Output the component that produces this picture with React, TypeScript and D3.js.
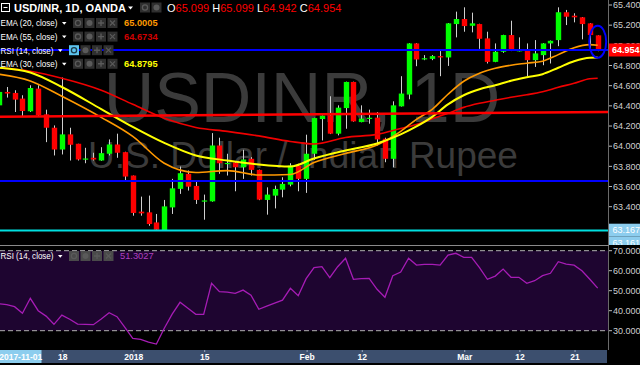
import React from "react";
import * as d3 from "d3";

// ---------- data ----------
const dates = [
  "2017-12-06","2017-12-07","2017-12-08","2017-12-11","2017-12-12","2017-12-13","2017-12-14","2017-12-15",
  "2017-12-18","2017-12-19","2017-12-20","2017-12-21","2017-12-22","2017-12-26","2017-12-27","2017-12-28","2017-12-29",
  "2018-01-02","2018-01-03","2018-01-04","2018-01-05","2018-01-08","2018-01-09","2018-01-10","2018-01-11","2018-01-12",
  "2018-01-15","2018-01-16","2018-01-17","2018-01-18","2018-01-19","2018-01-22","2018-01-23","2018-01-24","2018-01-25",
  "2018-01-26","2018-01-29","2018-01-30","2018-01-31",
  "2018-02-01","2018-02-02","2018-02-05","2018-02-06","2018-02-07","2018-02-08","2018-02-09","2018-02-12","2018-02-13",
  "2018-02-14","2018-02-15","2018-02-16","2018-02-19","2018-02-20","2018-02-21","2018-02-22","2018-02-23","2018-02-26",
  "2018-02-27","2018-02-28",
  "2018-03-01","2018-03-02","2018-03-05","2018-03-06","2018-03-07","2018-03-08","2018-03-09","2018-03-12","2018-03-13",
  "2018-03-14","2018-03-15","2018-03-16","2018-03-19","2018-03-20","2018-03-21","2018-03-22","2018-03-23","2018-03-26",
];

const opens = [
  64.405,64.538,64.528,64.472,64.346,64.571,64.316,64.183,63.967,64.117,64.024,63.872,63.885,63.858,63.925,64.017,63.941,
  63.709,63.351,63.344,63.244,63.168,63.393,63.577,63.726,63.606,63.457,63.453,64.007,63.829,63.838,63.791,63.875,63.765,
  63.467,63.510,63.569,63.619,63.808,63.676,63.925,64.269,64.306,64.124,64.378,64.637,64.239,64.277,64.283,64.074,63.875,
  64.395,64.512,65.019,64.867,64.866,64.893,64.880,65.211,65.261,65.194,65.211,65.069,64.836,64.936,65.102,64.947,64.959,
  64.853,64.903,65.019,65.052,65.328,65.294,65.278,65.218,65.099,
];
const highs = [
  64.594,64.587,64.555,64.505,64.604,64.604,64.362,64.206,64.681,64.183,64.024,63.984,63.935,63.990,64.067,64.124,63.945,
  63.709,63.500,63.510,63.328,63.467,63.676,63.798,63.759,63.659,63.520,64.130,64.084,63.925,63.851,63.964,63.891,63.768,
  63.592,63.609,63.692,63.831,63.825,64.114,64.282,64.305,64.495,64.405,64.640,64.640,64.405,64.362,64.339,64.084,64.445,
  64.694,65.022,65.022,64.903,64.903,64.943,65.221,65.334,65.377,65.324,65.214,65.135,65.019,65.105,65.244,65.079,65.019,
  65.052,65.022,65.048,65.377,65.351,65.318,65.281,65.221,65.099,
];
const lows = [
  64.375,64.482,64.339,64.289,64.339,64.289,64.040,63.908,63.918,63.858,63.858,63.831,63.858,63.855,63.908,63.885,63.659,
  63.311,63.311,63.211,63.161,63.161,63.328,63.527,63.560,63.427,63.271,63.450,63.726,63.709,63.553,63.676,63.709,63.465,
  63.321,63.383,63.493,63.602,63.553,63.537,63.865,64.057,64.120,64.107,64.173,64.243,64.237,64.223,64.007,63.841,63.791,
  64.393,64.465,64.793,64.853,64.853,64.694,64.796,65.079,65.135,65.129,64.965,64.820,64.833,64.926,64.943,64.940,64.694,
  64.786,64.803,64.820,64.992,65.201,65.228,65.059,64.953,64.942,
];
const closes = [
  64.538,64.522,64.462,64.349,64.577,64.306,64.183,63.967,64.117,64.014,63.868,63.878,63.868,63.931,64.017,63.935,63.699,
  63.338,63.334,63.228,63.171,63.403,63.582,63.732,63.599,63.467,63.462,64.007,63.831,63.834,63.791,63.868,63.765,63.470,
  63.520,63.576,63.626,63.808,63.676,63.925,64.279,64.303,64.124,64.382,64.637,64.246,64.273,64.282,64.067,63.875,64.405,
  64.522,65.019,64.860,64.872,64.893,64.880,65.218,65.261,65.191,65.218,65.065,64.836,64.936,65.102,64.946,64.952,64.853,
  64.920,65.019,65.045,65.328,65.284,65.278,65.211,65.102,64.954,
];

const rsiValues = [
  43.5,43,42,38.7,46.2,40,37.3,33.2,37.8,35.7,33.3,33.2,33,35.8,39,37,31.7,
  26.2,25.7,24.3,23.3,31.2,38.3,44.2,41.2,38.2,38.2,53.7,49.5,49.3,48.7,50.3,47.8,40.7,
  42.3,43.8,45.3,51.2,47.5,56,61.5,62,56.5,62,66.2,55.7,56,56.2,50.7,46.7,57.5,
  59.3,66.2,62.8,63.2,63.2,62.8,67.8,68.7,66.7,66.7,61.5,55.7,57.3,60.8,56.7,56.7,53.7,
  55,57.5,58.7,64.5,63.3,62.8,60,55.7,51.3027,
];

// EMA lines at these candle indices
const emaIdx = [0,4,8,13,17,21,25,29,33,37,40,44,48,51,53,55,57,59,61,63,65,67,69,71,73,75,76];
const ema20 = [64.714,64.647,64.495,64.286,64.097,63.831,63.739,63.758,63.714,63.719,63.838,63.928,64.012,64.147,64.266,64.365,64.515,64.644,64.724,64.773,64.803,64.823,64.843,64.908,64.977,65.007,65.0005];
const ema30 = [64.778,64.731,64.587,64.368,64.191,64.032,63.908,63.858,63.818,63.798,63.878,63.958,64.027,64.117,64.196,64.291,64.415,64.505,64.564,64.604,64.649,64.684,64.714,64.778,64.843,64.878,64.8795];
const ema55 = [64.778,64.743,64.674,64.555,64.415,64.276,64.186,64.147,64.102,64.047,64.022,64.087,64.117,64.176,64.216,64.271,64.326,64.385,64.425,64.455,64.485,64.510,64.540,64.584,64.624,64.669,64.6734];

const priceTicks = [63.2,63.4,63.6,63.8,64.0,64.2,64.4,64.6,64.8,65.0,65.2,65.4];
const rsiTicks = [30,40,50,60,70];
const xTicks = [
  { date: "2017-12-18", label: "18" },
  { date: "2018-01-02", label: "2018" },
  { date: "2018-01-15", label: "15" },
  { date: "2018-02-01", label: "Feb" },
  { date: "2018-02-12", label: "12" },
  { date: "2018-03-01", label: "Mar" },
  { date: "2018-03-12", label: "12" },
  { date: "2018-03-21", label: "21" },
];

const levelUpperBlue = 64.953;
const levelLowerBlue = 63.654;
const levelCyan = 63.163;
const trendStart = 64.292; // at first candle
const trendEnd = 64.338; // at last candle

const legendRows = [
  { name: "EMA (20, close)", value: "65.0005", color: "#ff9900" },
  { name: "EMA (55, close)", value: "64.6734", color: "#d00000" },
  { name: "RSI (14, close)", value: "", color: "" },
  { name: "EMA (30, close)", value: "64.8795", color: "#ffff00" },
];
const ohlc = [
  { k: "O", v: "65.099" },
  { k: "H", v: "65.099" },
  { k: "L", v: "64.942" },
  { k: "C", v: "64.954" },
];

// ---------- helpers ----------
function Icons({ x, y, n, first, bg }: { x: number; y: number; n: number; first?: string; bg?: string }) {
  const items = [];
  for (let k = 0; k < n; k++) {
    const bx = x + k * 11.5;
    const fill = k === 0 && first ? first : bg || "#2f2f2f";
    const sym = k === 0 && first ? "#1a3a4a" : "#5a5a5a";
    items.push(
      <g key={k}>
        <rect x={bx} y={y} width={10} height={10} fill={fill} />
        {k === 0 && <circle cx={bx + 5} cy={y + 5} r={2.6} fill="none" stroke={sym} strokeWidth={1.3} />}
        {k === 1 && <circle cx={bx + 5} cy={y + 5} r={3} fill={sym} />}
        {k === 2 && <path d={`M${bx + 2} ${y + 5}H${bx + 8}M${bx + 5} ${y + 2}V${y + 8}`} stroke={sym} strokeWidth={1.4} />}
        {k === 3 && <path d={`M${bx + 2.5} ${y + 2.5}L${bx + 7.5} ${y + 7.5}M${bx + 7.5} ${y + 2.5}L${bx + 2.5} ${y + 7.5}`} stroke={sym} strokeWidth={1.2} />}
      </g>
    );
  }
  return <g>{items}</g>;
}

export default function App() {
  const x = d3.scalePoint<string>().domain(dates).range([-1.2, 597.7]);
  const y = d3.scaleLinear().domain([63.4, 65.4]).range([206.7, 5]);
  const yr = d3.scaleLinear().domain([30, 70]).range([330.7, 250.7]);
  const xi = (i: number) => x(dates[i]) as number;

  const emaLine = d3
    .line<[number, number]>()
    .x((d) => xi(d[0]))
    .y((d) => y(d[1]))
    .curve(d3.curveMonotoneX);
  const rsiLine = d3
    .line<number>()
    .x((_, i) => xi(i))
    .y((d) => yr(d));

  const ema = (vals: number[]) => emaLine(emaIdx.map((k, j) => [k, vals[j]] as [number, number])) || "";

  // trend line extended to the panel edges
  const x0 = xi(0), x1 = xi(dates.length - 1);
  const slope = (y(trendEnd) - y(trendStart)) / (x1 - x0);
  const tY = (px: number) => y(trendStart) + slope * (px - x0);

  const font = "'Liberation Sans', Arial, sans-serif";

  return (
    <svg
      width={640}
      height={365}
      style={{ position: "fixed", left: 0, top: 0, display: "block", background: "#000" }}
      fontFamily={font}
    >
      <defs>
        <clipPath id="pricePanel">
          <rect x={0} y={0} width={609} height={245} />
        </clipPath>
        <clipPath id="rsiPanel">
          <rect x={0} y={246} width={609} height={104} />
        </clipPath>
        <clipPath id="axisTop">
          <rect x={609} y={0} width={31} height={245} />
        </clipPath>
      </defs>
      <rect x={0} y={0} width={640} height={365} fill="#000" />

      {/* ---------- price panel ---------- */}
      <g clipPath="url(#pricePanel)">
        <text x={302} y={122} textAnchor="middle" fontSize={70} fill="#3b3b3b">
          USDINR, 1D
        </text>
        <text x={303} y={168} textAnchor="middle" fontSize={37} fill="#3b3b3b">
          U.S. Dollar / Indian Rupee
        </text>

        {/* candles */}
        {dates.map((d, i) => {
          const cx = Math.round(xi(i)) + 0.5;
          const o = opens[i], c = closes[i];
          const up = c >= o;
          const top = y(Math.max(o, c));
          const h = Math.max(1.2, Math.abs(y(o) - y(c)));
          return (
            <g key={d}>
              <line x1={cx} x2={cx} y1={y(highs[i])} y2={y(lows[i])} stroke="#cfcfcf" strokeWidth={1} />
              <rect x={cx - 2.7} y={top} width={5.4} height={h} fill={up ? "#00ff00" : "#ff0000"} />
            </g>
          );
        })}

        {/* EMA lines */}
        <path d={ema(ema55)} fill="none" stroke="#f00000" strokeWidth={1.6} />
        <path d={ema(ema20)} fill="none" stroke="#ff9900" strokeWidth={1.6} />
        <path d={ema(ema30)} fill="none" stroke="#ffff00" strokeWidth={2} />

        {/* drawings */}
        <line x1={0} x2={609} y1={y(levelUpperBlue)} y2={y(levelUpperBlue)} stroke="#0000ff" strokeWidth={2} />
        <line x1={0} x2={609} y1={y(levelLowerBlue)} y2={y(levelLowerBlue)} stroke="#0000ff" strokeWidth={2} />
        <line x1={0} x2={609} y1={tY(0)} y2={tY(609)} stroke="#ff0000" strokeWidth={2.5} />
        <line x1={0} x2={609} y1={y(levelCyan)} y2={y(levelCyan)} stroke="#00e0e0" strokeWidth={2} />
        <ellipse cx={xi(dates.length - 1)} cy={y((opens[76] + closes[76]) / 2) - 1} rx={8.5} ry={16} fill="none" stroke="#0000ff" strokeWidth={2} />
      </g>

      {/* ---------- legend ---------- */}
      <g>
        <rect x={1.5} y={3.5} width={8} height={8} fill="none" stroke="#fff" strokeWidth={1} />
        <line x1={3.5} x2={7.5} y1={7.5} y2={7.5} stroke="#fff" strokeWidth={1} />
        <text x={14} y={11.5} fontSize={11} fontWeight="bold" fill="#fff">
          USD/INR, 1D, OANDA
        </text>
        <path d="M128 6.5h5l-2.5 3z" fill="#fff" />
        <Icons x={140} y={2.5} n={2} />
        <text x={167} y={11.5} fontSize={11} fill="#fff">
          {ohlc.map((p, k) => (
            <React.Fragment key={p.k}>
              <tspan fill="#fff">{(k > 0 ? " " : "") + p.k}</tspan>
              <tspan fill="#ff0000">{p.v}</tspan>
            </React.Fragment>
          ))}
        </text>
        {legendRows.map((r, k) => {
          const cy = 23 + k * 13.6;
          const isRsi = r.value === "";
          const nameW = isRsi ? 53 : 57;
          const ix = isRsi ? 69 : 73;
          return (
            <g key={r.name}>
              <text x={0.5} y={cy + 3.3} fontSize={9.3} fill="#fff" textLength={nameW} lengthAdjust="spacingAndGlyphs">
                {r.name}
              </text>
              <path d={`M${nameW + 5} ${cy - 1}h4.5l-2.25 2.7z`} fill="#fff" />
              <Icons x={ix} y={cy - 5} n={4} first={isRsi ? "#5cc3ee" : undefined} />
              {!isRsi && (
                <text x={124} y={cy + 3.3} fontSize={9.3} fontWeight="bold" fill={r.color}>
                  {r.value}
                </text>
              )}
            </g>
          );
        })}
      </g>

      {/* ---------- price axis ---------- */}
      <line x1={608.5} x2={608.5} y1={0} y2={350} stroke="#6a6a6a" strokeWidth={1} />
      <g clipPath="url(#axisTop)">
        {priceTicks.map((t) => (
          <g key={t}>
            <line x1={609} x2={612} y1={y(t)} y2={y(t)} stroke="#bbb" />
            <text x={613} y={y(t) + 3.2} fontSize={9} fill="#d0d0d0">
              {t.toFixed(3)}
            </text>
          </g>
        ))}
        <rect x={609} y={y(closes[76]) - 6.5} width={31} height={13} fill="#ff0000" />
        <text x={612} y={y(closes[76]) + 3.3} fontSize={9} fontWeight="bold" fill="#fff">
          {closes[76].toFixed(3)}
        </text>
        <rect x={609} y={y(63.167) - 6.5} width={31} height={13} fill="#8ccdee" />
        <text x={612.5} y={y(63.167) + 3.3} fontSize={9} fill="#fff">
          63.167
        </text>
        <rect x={609} y={y(63.167) + 6.5} width={31} height={13} fill="#8ccdee" />
        <text x={612.5} y={y(63.167) + 16.3} fontSize={9} fill="#fff">
          63.161
        </text>
      </g>

      {/* ---------- RSI panel ---------- */}
      <line x1={0} x2={609} y1={245.5} y2={245.5} stroke="#8a8a8a" strokeWidth={1} />
      <rect x={0} y={yr(70)} width={608} height={yr(30) - yr(70)} fill="#1e0530" />
      <line x1={0} x2={608} y1={yr(70)} y2={yr(70)} stroke="#b0b0b0" strokeDasharray="5,3" />
      <line x1={0} x2={608} y1={yr(30)} y2={yr(30)} stroke="#b0b0b0" strokeDasharray="5,3" />
      <g clipPath="url(#rsiPanel)">
        <path d={rsiLine(rsiValues) || ""} fill="none" stroke="#a61cb5" strokeWidth={1.3} />
      </g>
      <text x={0.5} y={259.3} fontSize={9.3} fill="#fff" textLength={53} lengthAdjust="spacingAndGlyphs">
        RSI (14, close)
      </text>
      <path d="M58 255h4.5l-2.25 2.7z" fill="#fff" />
      <Icons x={69} y={251} n={4} bg="#4a4a4a" />
      <text x={120} y={259.3} fontSize={9.3} fill="#b040c0">
        {rsiValues[rsiValues.length - 1].toFixed(4)}
      </text>
      {rsiTicks.map((t) => (
        <g key={t}>
          <line x1={609} x2={612} y1={yr(t)} y2={yr(t)} stroke="#bbb" />
          <text x={613} y={yr(t) + 3.2} fontSize={9} fill="#d0d0d0">
            {t.toFixed(4)}
          </text>
        </g>
      ))}

      {/* ---------- time axis ---------- */}
      <rect x={0} y={350} width={607} height={13} fill="#3c4f6e" />
      {xTicks.map((t) => {
        const px = (x(t.date) as number) + 1;
        return (
          <g key={t.date}>
            <line x1={px} x2={px} y1={350} y2={352} stroke="#9aa8bd" />
            <text x={px} y={360} textAnchor="middle" fontSize={8.5} fontWeight="bold" fill="#fff">
              {t.label}
            </text>
          </g>
        );
      })}
      <rect x={0} y={350} width={41.5} height={13} fill="#8ccdee" />
      <text x={20.7} y={360} textAnchor="middle" fontSize={8.5} fontWeight="bold" fill="#fff">
        2017-11-01
      </text>
    </svg>
  );
}
